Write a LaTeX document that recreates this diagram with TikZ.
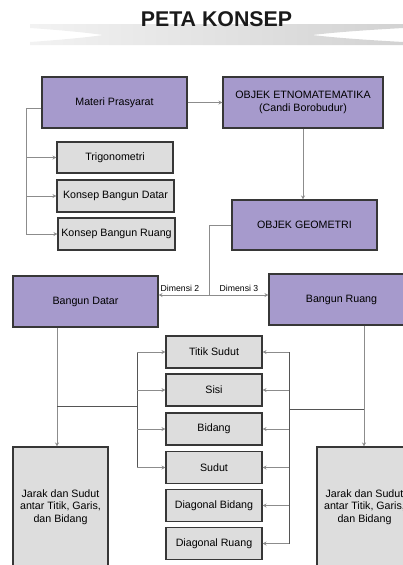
\documentclass[tikz,border=0pt]{standalone}
\usepackage{fontspec}
\setsansfont{Liberation Sans}
\usetikzlibrary{positioning,arrows.meta}

\begin{document}
\begin{tikzpicture}[x=0.75pt,y=-0.75pt,font=\sffamily\fontsize{8}{9.2}\selectfont,
  ungu/.style={draw=garis, fill=lila, line width=0.8pt, inner sep=1pt, align=center},
  abu/.style={draw=garis, fill=kelabu, line width=0.8pt, inner sep=1pt, align=center},
  hub/.style={draw=panah, line width=0.6pt},
  batang/.style={draw=panahgelap, line width=0.7pt},
  pnh/.style={hub, -{Stealth[length=3pt,width=3pt]}}]
  \definecolor{lila}{RGB}{166,154,204}
  \definecolor{kelabu}{RGB}{221,221,221}
  \definecolor{garis}{RGB}{55,55,55}
  \definecolor{panah}{RGB}{140,140,140}
  \definecolor{panahgelap}{RGB}{85,85,85}
  \definecolor{tinta}{RGB}{26,26,26}

  \useasboundingbox (0,0) rectangle (403,565);
  \clip (0,0) rectangle (403,565);

  % judul
  \shade[left color=gray!10, middle color=gray!55, right color=gray!35]
    (30,24) -- (403,24) -- (403,28) .. controls (350,31) and (330,33) .. (312,35)
    .. controls (330,37) and (350,39) .. (403,42) -- (403,45) -- (30,45) -- (30,42)
    .. controls (60,40) and (90,37) .. (103,35) .. controls (90,33) and (60,30) .. (30,28) -- cycle;
  \node[anchor=base, text=tinta, font=\sffamily\bfseries\fontsize{16}{18}\selectfont] (judul) at (216.5,26) {PETA KONSEP};

  % kotak atas
  \node[ungu, minimum width=108.75pt, minimum height=38.25pt] (prasyarat) at (114.5,102.5) {Materi Prasyarat};
  \node[ungu, minimum width=120pt, minimum height=38.25pt] (etno) at (303,102.5) {OBJEK ETNOMATEMATIKA\\(Candi Borobudur)};
  \node[abu, minimum width=87pt, minimum height=23.25pt] (trig) at (115,157.5) {Trigonometri};
  \node[abu, minimum width=87.75pt, minimum height=24pt] (kbd) at (115.5,196) {Konsep Bangun Datar};
  \node[abu, minimum width=87.75pt, minimum height=24pt] (kbr) at (116.5,234) {Konsep Bangun Ruang};
  \node[ungu, minimum width=108.75pt, minimum height=37.5pt] (geo) at (304.5,225) {OBJEK GEOMETRI};
  \node[ungu, minimum width=108.75pt, minimum height=38.25pt] (bd) at (85.5,301.5) {Bangun Datar};
  \node[ungu, minimum width=108.75pt, minimum height=38.25pt] (br) at (341.5,299.5) {Bangun Ruang};

  % unsur
  \foreach \n/\yy/\teks in {ts/352/Titik Sudut, sisi/390/Sisi, bid/429/Bidang, sud/467.5/Sudut,
                           dbid/505.5/Diagonal Bidang, druang/543.5/Diagonal Ruang}
    \node[abu, minimum width=72pt, minimum height=24pt] (\n) at (214,\yy) {\teks};
  \node[abu, minimum width=71.25pt, minimum height=90pt] (jarakkiri) at (60.5,507) {Jarak dan Sudut\\antar Titik, Garis,\\dan Bidang};
  \node[abu, minimum width=71.25pt, minimum height=90pt] (jarakkanan) at (364.5,507) {Jarak dan Sudut\\antar Titik, Garis,\\dan Bidang};

  % hubungan
  \coordinate (kiri) at (26,108);
  \draw[hub] (prasyarat.west |- kiri) -- (kiri) -- (kiri |- kbr);
  \foreach \n in {trig,kbd,kbr}
    \draw[pnh] (kiri |- \n) -- (\n);
  \draw[pnh] (prasyarat) -- (etno);
  \draw[pnh] (etno.south) -- (etno.south |- geo.north);

  \coordinate (cabang) at (209,295);
  \draw[hub] (geo.west) -| (cabang);
  \draw[pnh] (cabang) -- (cabang -| bd.east);
  \draw[pnh] (cabang) -- (cabang -| br.west);
  \node[anchor=base, font=\sffamily\fontsize{6.5}{7}\selectfont] (dim2) at (180,291) {Dimensi 2};
  \node[anchor=base, font=\sffamily\fontsize{6.5}{7}\selectfont] (dim3) at (239,291) {Dimensi 3};

  \coordinate (simpulkiri) at (57,406);
  \coordinate (rel) at (137,406);
  \draw[pnh] (simpulkiri |- bd.south) -- (simpulkiri |- jarakkiri.north);
  \draw[batang] (simpulkiri) -- (rel);
  \draw[batang] (rel |- ts) -- (rel |- sud);
  \foreach \n in {ts,sisi,bid,sud}
    \draw[pnh] (rel |- \n) -- (\n);

  \coordinate (simpulkanan) at (364,409);
  \coordinate (rek) at (289,409);
  \draw[pnh] (simpulkanan |- br.south) -- (simpulkanan |- jarakkanan.north);
  \draw[batang] (simpulkanan) -- (rek);
  \draw[batang] (rek |- ts) -- (rek |- druang);
  \foreach \n in {ts,sisi,bid,sud,dbid,druang}
    \draw[pnh] (rek |- \n) -- (\n);
\end{tikzpicture}
\end{document}
